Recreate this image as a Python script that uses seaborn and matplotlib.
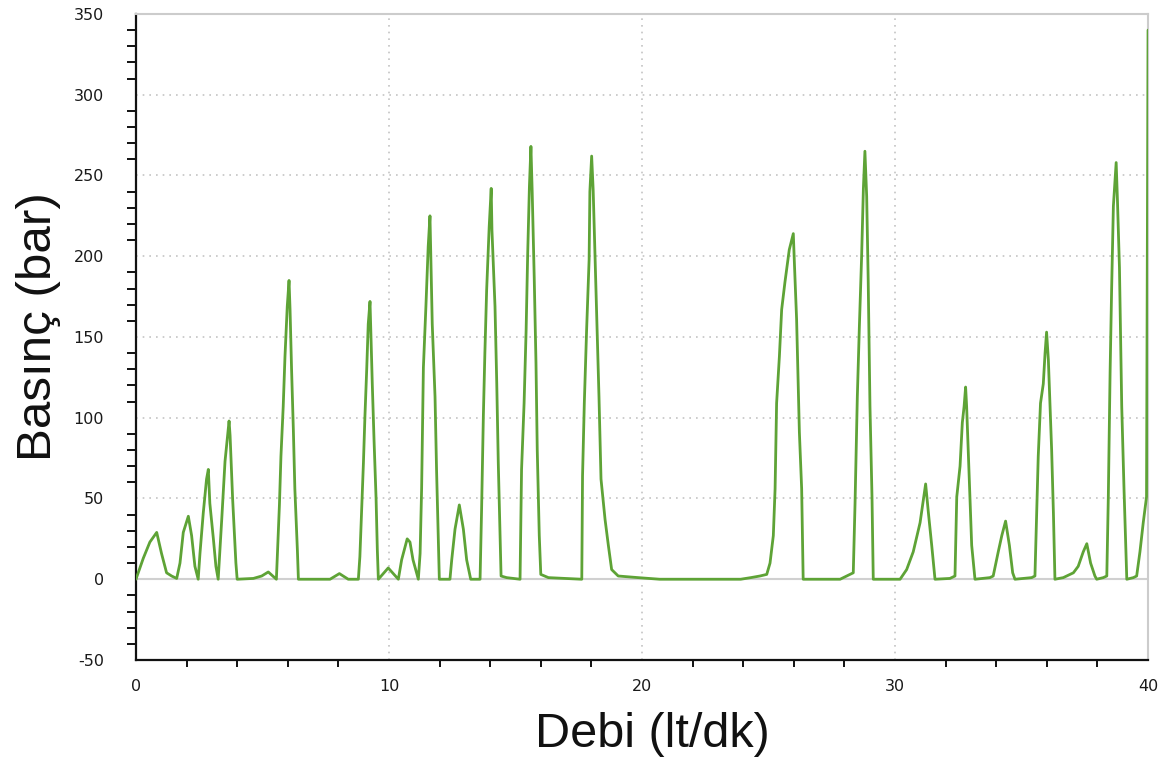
import numpy as np
import pandas as pd
import seaborn as sns
import matplotlib.pyplot as plt
from matplotlib.ticker import MultipleLocator

# Debi (lt/dk) values
debi = [
    0.00, 0.29, 0.55, 0.82, 1.01, 1.21, 1.41, 1.61, 1.74, 1.87, 2.07, 2.20, 2.33,
    2.46, 2.53, 2.66, 2.79, 2.86, 2.92, 3.06, 3.16, 3.25, 3.39, 3.52, 3.68, 3.72,
    3.82, 3.95, 4.00, 4.64, 4.97, 5.23, 5.55, 5.59, 5.67, 5.73, 5.82, 5.89, 5.98,
    6.05, 6.09, 6.15, 6.22, 6.28, 6.38, 6.42, 7.67, 8.04, 8.39, 8.79, 8.85, 8.92,
    8.99, 9.05, 9.12, 9.18, 9.25, 9.28, 9.34, 9.41, 9.49, 9.54, 9.58, 9.97, 10.37,
    10.50, 10.72, 10.83, 10.95, 11.09, 11.16, 11.23, 11.29, 11.36, 11.46, 11.55,
    11.62, 11.65, 11.71, 11.82, 11.88, 11.95, 11.99, 12.41, 12.48, 12.61, 12.78,
    12.94, 13.07, 13.23, 13.60, 13.66, 13.73, 13.79, 13.86, 13.96, 14.04, 14.07,
    14.19, 14.26, 14.32, 14.39, 14.43, 14.65, 15.18, 15.24, 15.34, 15.42, 15.48,
    15.55, 15.61, 15.66, 15.74, 15.81, 15.86, 15.94, 16.00, 16.30, 17.62, 17.65,
    17.72, 17.81, 17.91, 17.94, 18.01, 18.07, 18.21, 18.30, 18.38, 18.54, 18.67,
    18.80, 19.06, 19.85, 20.70, 23.90, 24.30, 24.66, 24.93, 25.06, 25.19, 25.26,
    25.32, 25.43, 25.52, 25.65, 25.82, 25.98, 26.02, 26.11, 26.22, 26.31, 26.37,
    27.83, 28.09, 28.35, 28.42, 28.51, 28.59, 28.68, 28.75, 28.81, 28.88, 28.94,
    29.01, 29.09, 29.14, 30.20, 30.46, 30.72, 30.99, 31.21, 31.32, 31.45, 31.58,
    32.17, 32.37, 32.44, 32.57, 32.66, 32.73, 32.79, 32.83, 32.94, 33.03, 33.16,
    33.75, 33.88, 34.08, 34.22, 34.37, 34.52, 34.65, 34.74, 35.40, 35.53, 35.60,
    35.66, 35.75, 35.86, 35.93, 35.99, 36.06, 36.19, 36.26, 36.32, 36.65, 37.05,
    37.24, 37.44, 37.58, 37.73, 37.90, 37.97, 38.23, 38.37, 38.43, 38.50, 38.56,
    38.63, 38.74, 38.79, 38.87, 38.96, 39.05, 39.16, 39.42, 39.55, 39.68, 39.81,
    39.94, 40.00,
]

# Basinc (bar) values, same order
basinc = [
    0, 13, 23, 29, 16, 4, 2, 0.5, 10, 29, 39, 27, 8,
    0, 16, 41, 62, 68, 47, 25, 8, 0, 37, 73, 98, 89,
    50, 10, 0, 0.5, 2, 4.5, 0, 15, 46, 76, 107, 138, 169,
    185, 167, 130, 93, 56, 18, 0, 0, 3.5, 0, 0, 14, 43,
    72, 101, 130, 158, 172, 155, 121, 86, 50, 18, 0, 7, 0,
    12, 25, 23, 12, 4, 0, 16, 56, 131, 169, 206,
    225, 202, 158, 113, 68, 23, 0, 0, 12, 31, 46,
    31, 12, 0, 0, 43, 101, 140, 179, 218, 242, 216,
    169, 121, 72, 27, 2, 1, 0, 68, 109, 154, 200,
    243, 268, 240, 187, 134, 80, 27, 3, 1, 0, 64,
    109, 154, 198, 240, 262, 241, 163, 113, 62, 37, 21,
    6, 2, 1, 0, 0, 1, 2, 3, 10, 27, 56,
    109, 138, 167, 184, 204, 214, 197, 161, 91, 56, 0,
    0, 2, 4, 47, 113, 156, 200, 242, 265, 237, 185,
    107, 51, 0, 0, 6, 17, 35, 59, 41, 21, 0,
    0.5, 2, 51, 70, 97, 107, 119, 107, 60, 21, 0,
    1, 2, 17, 27, 36, 21, 4, 0, 1, 2, 41,
    76, 109, 121, 140, 153, 136, 80, 41, 0, 1, 4,
    8, 17, 22, 10, 2, 0, 1, 2, 51, 128, 179,
    231, 258, 235, 193, 107, 56, 0, 1, 2, 17, 35,
    51, 340,
]

df = pd.DataFrame({"debi": debi, "basinc": basinc})

sns.set_style("white")
plt.rcParams['font.family'] = ['DejaVu Sans']
plt.rcParams['axes.unicode_minus'] = False

fig = plt.figure(figsize=(11.66, 7.63), dpi=100)
ax = fig.add_axes([0.1166, 0.135, 0.868, 0.8467])

# grid and zero line
ax.grid(True, which='major', color='#c4c4c4', linestyle=(0, (1, 3)), linewidth=1.2)
ax.axhline(0, color='#d0d0d0', linewidth=1.5, zorder=1)

sns.lineplot(data=df, x="debi", y="basinc", color='#5ea336', linewidth=2,
             estimator=None, sort=False, ax=ax, zorder=3)

ax.set_xlim(0, 40)
ax.set_ylim(-50, 350)
ax.xaxis.set_major_locator(MultipleLocator(10))
ax.xaxis.set_minor_locator(MultipleLocator(2))
ax.yaxis.set_major_locator(MultipleLocator(50))
ax.yaxis.set_minor_locator(MultipleLocator(10))

for side in ['left', 'bottom']:
    ax.spines[side].set_color('#111111')
    ax.spines[side].set_linewidth(1.6)
for side in ['top', 'right']:
    ax.spines[side].set_color('#cccccc')
    ax.spines[side].set_linewidth(1.5)

ax.tick_params(axis='y', which='major', direction='out', length=13, width=1.4,
               color='#111111', labelsize=11.5, labelcolor='#1a1a1a', pad=10)
ax.tick_params(axis='y', which='minor', direction='out', length=6.5, width=1.4,
               color='#111111', left=True)
ax.tick_params(axis='x', which='major', direction='out', length=11, width=1.4,
               color='#111111', labelsize=11.5, labelcolor='#1a1a1a', pad=3)
ax.tick_params(axis='x', which='minor', direction='out', length=5, width=1.4,
               color='#111111', bottom=True)

ax.set_xlabel("Debi (lt/dk)", fontsize=35, color='#111111',
              family=['Liberation Sans', 'DejaVu Sans'])
ax.set_ylabel("Basınç (bar)", fontsize=35.5, color='#111111',
              family=['Liberation Sans', 'DejaVu Sans'])
ax.xaxis.set_label_coords(0.51, -0.08)
ax.yaxis.set_label_coords(-0.074, 0.516)

fig.savefig("out.png", dpi=100)
